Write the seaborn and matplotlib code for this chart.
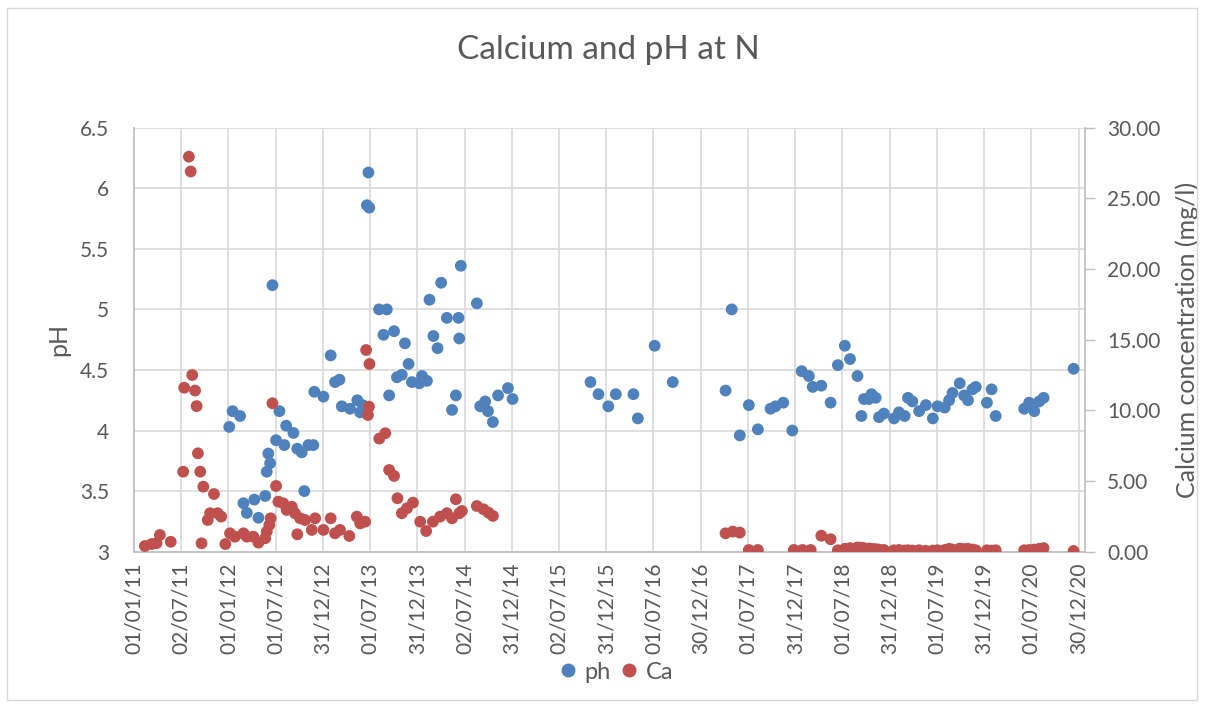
import matplotlib
matplotlib.use("Agg")
import matplotlib.pyplot as plt
from matplotlib.lines import Line2D
from matplotlib.patches import Rectangle
import pandas as pd
import seaborn as sns

# pH readings
ph_dates = [
    '2012-01-04', '2012-01-17', '2012-02-15', '2012-02-28', '2012-03-12', '2012-04-10',
    '2012-04-26', '2012-05-22', '2012-05-28', '2012-06-03', '2012-06-10', '2012-06-19',
    '2012-07-03', '2012-07-16', '2012-08-04', '2012-08-11', '2012-09-08', '2012-09-23',
    '2012-10-10', '2012-10-20', '2012-11-05', '2012-11-24', '2012-11-28', '2013-01-02',
    '2013-01-30', '2013-02-16', '2013-03-05', '2013-03-14', '2013-04-15', '2013-05-13',
    '2013-05-24', '2013-06-03', '2013-06-19', '2013-06-25', '2013-06-28', '2013-08-05',
    '2013-08-22', '2013-09-04', '2013-09-13', '2013-10-02', '2013-10-13', '2013-11-01',
    '2013-11-13', '2013-11-27', '2013-12-10', '2014-01-08', '2014-01-18', '2014-02-06',
    '2014-02-16', '2014-03-03', '2014-03-19', '2014-04-02', '2014-04-24', '2014-05-14',
    '2014-05-29', '2014-06-08', '2014-06-11', '2014-06-17', '2014-08-18', '2014-08-31',
    '2014-09-19', '2014-09-30', '2014-10-19', '2014-11-08', '2014-12-16', '2015-01-03',
    '2015-10-31', '2015-12-01', '2016-01-08', '2016-02-06', '2016-04-14', '2016-05-01',
    '2016-07-05', '2016-09-13', '2017-04-05', '2017-04-29', '2017-05-30', '2017-07-04',
    '2017-08-08', '2017-09-26', '2017-10-15', '2017-11-14', '2017-12-19', '2018-01-24',
    '2018-02-21', '2018-03-08', '2018-04-10', '2018-05-16', '2018-06-13', '2018-07-10',
    '2018-07-30', '2018-08-28', '2018-09-12', '2018-09-22', '2018-10-11', '2018-10-21',
    '2018-11-06', '2018-11-19', '2018-12-08', '2019-01-16', '2019-02-04', '2019-02-26',
    '2019-03-11', '2019-03-28', '2019-04-23', '2019-05-19', '2019-06-15', '2019-07-03',
    '2019-07-31', '2019-08-17', '2019-08-30', '2019-09-27', '2019-10-14', '2019-10-29',
    '2019-11-15', '2019-11-28', '2020-01-10', '2020-01-28', '2020-02-13', '2020-06-02',
    '2020-06-21', '2020-07-11', '2020-07-30', '2020-08-16', '2020-12-10',
]
ph_values = [
    4.03, 4.16, 4.12, 3.40, 3.32, 3.43,
    3.28, 3.46, 3.66, 3.81, 3.73, 5.20,
    3.92, 4.16, 3.88, 4.04, 3.98, 3.85,
    3.82, 3.50, 3.88, 3.88, 4.32, 4.28,
    4.62, 4.40, 4.42, 4.20, 4.18, 4.25,
    4.15, 4.21, 5.86, 6.13, 5.84, 5.00,
    4.79, 5.00, 4.29, 4.82, 4.44, 4.46,
    4.72, 4.55, 4.40, 4.39, 4.45, 4.41,
    5.08, 4.78, 4.68, 5.22, 4.93, 4.17,
    4.29, 4.93, 4.76, 5.36, 5.05, 4.20,
    4.24, 4.16, 4.07, 4.29, 4.35, 4.26,
    4.40, 4.30, 4.20, 4.30, 4.30, 4.10,
    4.70, 4.40, 4.33, 5.00, 3.96, 4.21,
    4.01, 4.18, 4.20, 4.23, 4.00, 4.49,
    4.45, 4.36, 4.37, 4.23, 4.54, 4.70,
    4.59, 4.45, 4.12, 4.26, 4.26, 4.30,
    4.27, 4.11, 4.14, 4.10, 4.15, 4.12,
    4.27, 4.24, 4.16, 4.21, 4.10, 4.20,
    4.19, 4.25, 4.31, 4.39, 4.29, 4.25,
    4.34, 4.36, 4.23, 4.34, 4.12, 4.18,
    4.23, 4.16, 4.24, 4.27, 4.51,
]

# calcium readings (mg/l)
ca_dates = [
    '2011-02-12', '2011-03-10', '2011-03-29', '2011-04-11', '2011-05-23', '2011-07-10',
    '2011-07-14', '2011-08-01', '2011-08-08', '2011-08-14', '2011-08-25', '2011-08-31',
    '2011-09-05', '2011-09-14', '2011-09-19', '2011-09-26', '2011-10-13', '2011-10-22',
    '2011-11-06', '2011-11-20', '2011-12-04', '2011-12-20', '2012-01-07', '2012-01-26',
    '2012-02-28', '2012-03-12', '2012-04-06', '2012-04-26', '2012-05-22', '2012-05-28',
    '2012-06-07', '2012-06-12', '2012-06-19', '2012-07-03', '2012-07-12', '2012-07-31',
    '2012-08-13', '2012-09-02', '2012-09-14', '2012-09-23', '2012-10-04', '2012-10-23',
    '2012-11-18', '2012-12-01', '2013-01-02', '2013-01-30', '2013-02-16', '2013-03-07',
    '2013-04-12', '2013-05-11', '2013-05-24', '2013-06-12', '2013-06-16', '2013-06-23',
    '2013-06-27', '2013-06-29', '2013-08-06', '2013-08-29', '2013-09-13', '2013-10-02',
    '2013-10-15', '2013-11-01', '2013-11-21', '2013-12-14', '2014-01-11', '2014-02-03',
    '2014-03-01', '2014-03-29', '2014-04-24', '2014-05-14', '2014-05-29', '2014-06-11',
    '2014-06-21', '2014-08-18', '2014-09-13', '2014-10-02', '2014-10-19',
    '2017-04-05', '2017-05-03', '2017-05-30', '2017-07-04', '2017-08-08', '2017-12-25',
    '2018-01-27', '2018-02-28', '2018-04-10', '2018-05-16', '2018-06-13', '2018-07-10',
    '2018-07-30', '2018-08-28', '2018-09-12', '2018-09-22', '2018-10-11', '2018-10-21',
    '2018-11-06', '2018-11-19', '2018-12-08', '2019-01-16', '2019-02-04', '2019-02-26',
    '2019-03-11', '2019-03-28', '2019-04-23', '2019-05-19', '2019-06-15', '2019-07-03',
    '2019-07-31', '2019-08-17', '2019-08-30', '2019-09-27', '2019-10-14', '2019-10-29',
    '2019-11-15', '2019-11-28', '2020-01-10', '2020-01-28', '2020-02-13', '2020-06-02',
    '2020-06-21', '2020-07-11', '2020-07-30', '2020-08-16', '2020-12-10',
]
ca_values = [
    0.40, 0.54, 0.60, 1.18, 0.70, 5.66,
    11.6, 27.95, 26.9, 12.5, 11.4, 10.3,
    6.96, 5.66, 0.59, 4.60, 2.24, 2.72,
    4.08, 2.72, 2.48, 0.54, 1.30, 1.06,
    1.30, 1.06, 1.06, 0.64, 0.95, 1.42,
    1.89, 2.36, 10.5, 4.65, 3.54, 3.42,
    2.95, 3.18, 2.72, 1.23, 2.36, 2.24,
    1.54, 2.36, 1.54, 2.36, 1.30, 1.54,
    1.11, 2.48, 2.00, 2.12, 14.27, 9.67,
    10.26, 13.28, 8.00, 8.38, 5.78, 5.36,
    3.78, 2.72, 3.07, 3.47, 2.12, 1.46,
    2.12, 2.48, 2.72, 2.36, 3.71, 2.72,
    2.88, 3.23, 3.00, 2.76, 2.53,
    1.30, 1.42, 1.35, 0.12, 0.12, 0.12,
    0.12, 0.12, 1.13, 0.88, 0.10, 0.20,
    0.25, 0.30, 0.28, 0.25, 0.22, 0.20,
    0.18, 0.15, 0.12, 0.10, 0.12, 0.08,
    0.10, 0.08, 0.10, 0.06, 0.08, 0.10,
    0.12, 0.20, 0.15, 0.22, 0.18, 0.20,
    0.15, 0.10, 0.10, 0.08, 0.10, 0.10,
    0.12, 0.15, 0.20, 0.25, 0.05,
]

tick_labels = [
    '01/01/11', '02/07/11', '01/01/12', '01/07/12', '31/12/12', '01/07/13', '31/12/13',
    '02/07/14', '31/12/14', '02/07/15', '31/12/15', '01/07/16', '30/12/16', '01/07/17',
    '31/12/17', '01/07/18', '31/12/18', '01/07/19', '31/12/19', '01/07/20', '30/12/20',
]

sns.set_theme(style="white")
plt.rcParams['font.family'] = ['Lato', 'DejaVu Sans']

txt = '#595959'
grid = '#D9D9D9'
blue = '#4F81BD'
red = '#C0504D'

ph = pd.DataFrame({'date': pd.to_datetime(ph_dates), 'ph': ph_values})
ca = pd.DataFrame({'date': pd.to_datetime(ca_dates), 'Ca': ca_values})

fig = plt.figure(figsize=(12.05, 7.07), dpi=100)
fig.patches.append(Rectangle((7 / 1205, 7 / 707), 1190 / 1205, 692 / 707,
                             transform=fig.transFigure, fill=False,
                             edgecolor=grid, linewidth=1))

ax = fig.add_axes([0.1112, 0.2197, 0.7892, 0.5997])
ax2 = ax.twinx()

sns.scatterplot(data=ph, x='date', y='ph', ax=ax, color=blue, s=72,
                edgecolor='none', legend=False)
sns.scatterplot(data=ca, x='date', y='Ca', ax=ax2, color=red, s=72,
                edgecolor='none', legend=False)

start = pd.Timestamp('2011-01-01')
ticks = [start + pd.Timedelta(days=182.5 * k) for k in range(len(tick_labels))]
ax.set_xlim(start, start + pd.Timedelta(days=3675))
ax.set_xticks(ticks)
ax.set_xticklabels(tick_labels, rotation=90)

ax.set_ylim(3, 6.5)
ax.set_yticks([3, 3.5, 4, 4.5, 5, 5.5, 6, 6.5])
ax.set_yticklabels(['3', '3.5', '4', '4.5', '5', '5.5', '6', '6.5'])
ax2.set_ylim(0, 30)
ax2.set_yticks(range(0, 31, 5))
ax2.set_yticklabels([f'{v:.2f}' for v in range(0, 31, 5)])

ax.grid(True, color=grid, linewidth=1.2)
ax.set_axisbelow(True)
ax.tick_params(axis='x', length=0, pad=8, labelsize=15, labelcolor=txt)
ax.tick_params(axis='y', length=0, pad=18, labelsize=15, labelcolor=txt)
ax2.tick_params(axis='y', length=7, width=1, color='#BFBFBF', pad=9,
                labelsize=15, labelcolor=txt, direction='out')

for name, sp in ax.spines.items():
    sp.set_visible(name in ('left', 'bottom'))
    sp.set_color('#BFBFBF')
for name, sp in ax2.spines.items():
    sp.set_visible(name == 'right')
    sp.set_color('#BFBFBF')

ax.set_xlabel('')
ax.set_ylabel('pH', fontsize=18, color=txt, labelpad=7)
ax2.set_ylabel('Calcium concentration (mg/l)', fontsize=18, color=txt, labelpad=11)

fig.text(0.505, 0.929, 'Calcium and pH at N', ha='center', va='center',
         fontsize=24, color=txt)

handles = [Line2D([], [], marker='o', linestyle='', color=blue, markersize=9, label='ph'),
           Line2D([], [], marker='o', linestyle='', color=red, markersize=9, label='Ca')]
fig.legend(handles=handles, loc='center', bbox_to_anchor=(0.507, 0.0495), ncol=2,
           frameon=False, fontsize=17, labelcolor=txt, handletextpad=-0.1,
           columnspacing=0.0, handlelength=1.6)

fig.savefig('out.png', dpi=100)
